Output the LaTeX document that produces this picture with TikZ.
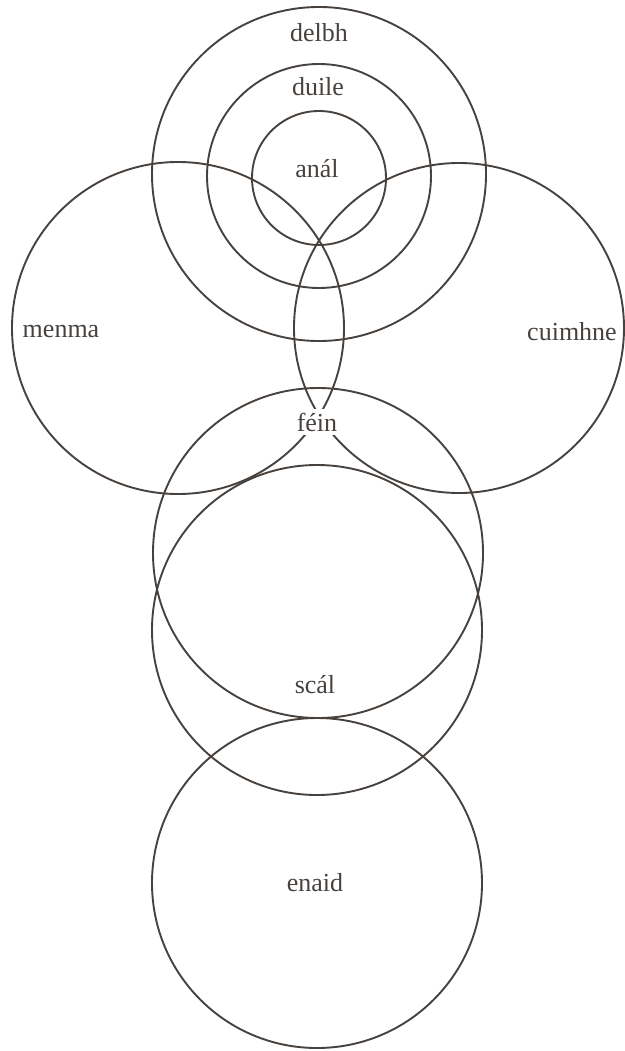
\documentclass[tikz,border=0pt]{standalone}
\usepackage{fontspec}
\setmainfont{Liberation Serif}
\usepackage{xcolor}
\definecolor{InkGray}{RGB}{72, 66, 62}

\begin{document}
\begin{tikzpicture}[x=1pt, y=-1pt,
    ring/.style={draw=InkGray, line width=1.9pt},
    word/.style={text=InkGray, anchor=base, inner sep=0pt,
                 font=\fontsize{26}{30}\selectfont}]
  \useasboundingbox (0,0) rectangle (624,1051);
  % centres of the circles
  \coordinate (delbhC) at (319,174);
  \coordinate (duileC) at (319,176);
  \coordinate (analC) at (319,178);
  \coordinate (menmaC) at (178,328);
  \coordinate (cuimhneC) at (459,328);
  \coordinate (feinC) at (318,553);
  \coordinate (scalC) at (317,630);
  \coordinate (enaidC) at (317,883);
  % circles
  \draw[ring] (delbhC) circle[radius=167];
  \draw[ring] (duileC) circle[radius=112];
  \draw[ring] (analC) circle[radius=67];
  \draw[ring] (menmaC) circle[radius=166];
  \draw[ring] (cuimhneC) circle[radius=165];
  \draw[ring] (feinC) circle[radius=165];
  \draw[ring] (scalC) circle[radius=165];
  \draw[ring] (enaidC) circle[radius=165];
  % labels
  \node[word] (delbh) at (319,42) {delbh};
  \node[word] (duile) at (318,96) {duile};
  \node[word] (anal) at (317,178) {anál};
  \node[word] (menma) at (61,337) {menma};
  \node[word] (cuimhne) at (572,340) {cuimhne};
  \node[word, fill=white, inner xsep=1pt, inner ysep=4pt] (fein) at (317,431) {féin};
  \node[word] (scal) at (315,693) {scál};
  \node[word] (enaid) at (315,891) {enaid};
\end{tikzpicture}
\end{document}
